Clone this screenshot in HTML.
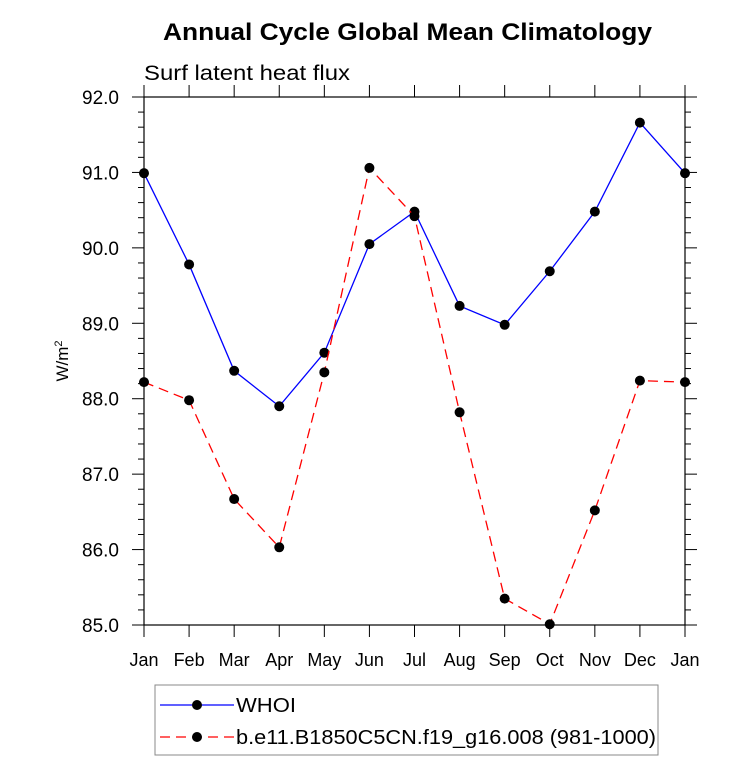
<!DOCTYPE html>
<html><head><meta charset="utf-8"><style>
body{margin:0;background:#fff;}
svg{display:block;font-family:"Liberation Sans",sans-serif;}
</style></head><body>
<svg id="chart" width="733" height="777">
<text x="163" y="40" font-size="24" font-weight="bold" textLength="489" lengthAdjust="spacingAndGlyphs">Annual Cycle Global Mean Climatology</text>
<text x="144" y="80" font-size="21" textLength="206" lengthAdjust="spacingAndGlyphs">Surf latent heat flux</text>
<text transform="translate(68,361) rotate(-90)" text-anchor="middle" font-size="17">W/m<tspan dy="-6" font-size="11">2</tspan></text>
<g id="axes"></g>
<g id="series"></g>
<g>
<rect x="155" y="685" width="503" height="70" fill="none" stroke="#888" stroke-width="1"/>
<g>
<line x1="160" y1="705" x2="234" y2="705" stroke="#0000ff" stroke-width="1.3"/>
<circle cx="197" cy="705" r="5" fill="#000"/>
<text x="236" y="712" font-size="20" textLength="60" lengthAdjust="spacingAndGlyphs">WHOI</text></g>
<g>
<line x1="160" y1="737" x2="234" y2="737" stroke="#ff0000" stroke-width="1.3" stroke-dasharray="10,6"/>
<circle cx="197" cy="737" r="5" fill="#000"/>
<text x="236" y="744" font-size="20" textLength="420" lengthAdjust="spacingAndGlyphs">b.e11.B1850C5CN.f19_g16.008 (981-1000)</text></g>
</g>
</svg>
<script>
const months=["Jan","Feb","Mar","Apr","May","Jun","Jul","Aug","Sep","Oct","Nov","Dec","Jan"];
const whoi=[90.99,89.78,88.37,87.90,88.61,90.05,90.48,89.23,88.98,89.69,90.48,91.66,90.99];
const model=[88.22,87.98,86.67,86.03,88.35,91.06,90.42,87.82,85.35,85.01,86.52,88.24,88.22];
const yTicks=[85,86,87,88,89,90,91,92];
const L=144,R=685,T=97,B=625,ymin=85,ymax=92;
const xs=i=>L+i*(R-L)/(months.length-1);
const ys=v=>B-(v-ymin)/(ymax-ymin)*(B-T);
const NS="http://www.w3.org/2000/svg";
function mk(t,a,p){const e=document.createElementNS(NS,t);for(const k in a)e.setAttribute(k,a[k]);p.appendChild(e);return e;}
const ax=document.getElementById('axes');
const fr=mk('rect',{x:L,y:T,width:R-L,height:B-T,fill:'none',stroke:'#000','stroke-width':1.2},ax);


months.forEach((m,i)=>{const x=xs(i);
mk('line',{x1:x,y1:B,x2:x,y2:B+12,stroke:'#000'},ax);
mk('line',{x1:x,y1:T,x2:x,y2:T-12,stroke:'#000'},ax);
const t=mk('text',{x:x,y:666,'text-anchor':'middle','font-size':18},ax);t.textContent=m;

});
for(let v=ymin;v<=ymax+1e-9;v+=0.2){const y=ys(v);const maj=Math.abs(v-Math.round(v))<1e-6;const l=maj?12:6;
mk('line',{x1:L,y1:y,x2:L-l,y2:y,stroke:'#000'},ax);mk('line',{x1:R,y1:y,x2:R+l,y2:y,stroke:'#000'},ax);}
yTicks.forEach(v=>{const t=mk('text',{x:119,y:ys(v)+7,'text-anchor':'end','font-size':19},ax);t.textContent=v.toFixed(1);

});
const sg=document.getElementById('series');
function series(d,col,dash,name){const g=mk('g',{},sg);


const a={points:d.map((v,i)=>xs(i)+','+ys(v)).join(' '),fill:'none',stroke:col,'stroke-width':1.3};if(dash)a['stroke-dasharray']=dash;mk('polyline',a,g);
d.forEach((v,i)=>{const c=mk('circle',{cx:xs(i),cy:ys(v),r:5,fill:'#000'},g);

});}
series(whoi,'#0000ff',null,'series-whoi');
series(model,'#ff0000','10,6','series-model');
</script>
</body></html>
